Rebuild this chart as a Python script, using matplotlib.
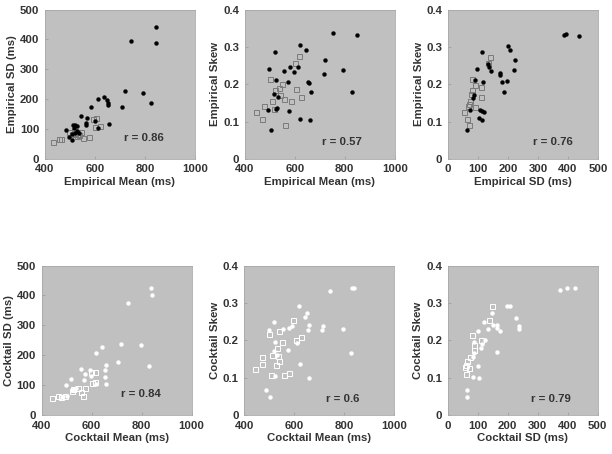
import matplotlib.pyplot as plt
import numpy as np

# ---- data ----
# Empirical: mean vs SD
emp_ms_circ_mean = [844, 745, 844, 720, 791, 825, 710, 612, 638, 647, 651, 654, 585, 656, 543, 570,
                    566, 565, 599, 613, 486, 513, 522, 516, 527, 519, 535, 508, 495, 507, 530]
emp_ms_circ_sd = [440, 395, 387, 227, 222, 186, 174, 200, 207, 196, 187, 181, 173, 116, 143, 136,
                  120, 115, 128, 105, 98, 112, 112, 103, 94, 88, 86, 83, 72, 64, 110]
emp_ms_sq_mean = [434, 457, 463, 495, 507, 520, 530, 537, 546, 551, 576, 592, 605, 600, 621, 530, 515]
emp_ms_sq_sd = [56, 65, 68, 90, 83, 87, 84, 80, 89, 69, 73, 134, 138, 108, 109, 77, 95]

# Empirical: mean vs skew
emp_mk_circ_mean = [752, 849, 621, 644, 522, 722, 794, 497, 555, 580, 611, 595, 716, 523, 574, 652,
                    656, 665, 829, 515, 532, 493, 525, 530, 575, 621, 662, 506]
emp_mk_circ_skew = [0.336, 0.331, 0.304, 0.292, 0.287, 0.266, 0.237, 0.240, 0.235, 0.247, 0.245,
                    0.233, 0.227, 0.211, 0.206, 0.207, 0.204, 0.179, 0.180, 0.175, 0.165, 0.131,
                    0.133, 0.135, 0.127, 0.107, 0.105, 0.078]
emp_mk_sq_mean = [616, 599, 499, 550, 536, 522, 605, 540, 625, 556, 583, 510, 476, 444, 517, 469, 560]
emp_mk_sq_skew = [0.276, 0.258, 0.214, 0.201, 0.190, 0.184, 0.188, 0.171, 0.166, 0.160, 0.156,
                  0.154, 0.143, 0.126, 0.133, 0.107, 0.090]

# Empirical: SD vs skew
emp_sk_circ_sd = [386, 392, 438, 199, 207, 223, 221, 114, 97, 132, 137, 143, 173, 175, 181, 197,
                  186, 90, 117, 86, 84, 74, 106, 112, 120, 104, 115, 65]
emp_sk_circ_skew = [0.332, 0.335, 0.330, 0.303, 0.291, 0.266, 0.237, 0.286, 0.240, 0.253, 0.246,
                    0.235, 0.230, 0.224, 0.206, 0.208, 0.179, 0.210, 0.206, 0.170, 0.164, 0.131,
                    0.130, 0.128, 0.125, 0.109, 0.104, 0.078]
emp_sk_sq_sd = [140, 132, 81, 110, 90, 81, 109, 78, 75, 69, 66, 54, 62, 70, 90]
emp_sk_sq_skew = [0.274, 0.256, 0.214, 0.192, 0.199, 0.185, 0.166, 0.174, 0.156, 0.147, 0.143,
                  0.125, 0.107, 0.090, 0.138]

# Cocktail: mean vs SD
ck_ms_circ_mean = [836, 841, 745, 641, 617, 716, 797, 828, 705, 656, 653, 653, 657, 556, 574, 592,
                   571, 596, 519, 619, 497, 525, 534, 539, 523, 502, 481]
ck_ms_circ_sd = [426, 400, 376, 226, 207, 238, 234, 164, 178, 168, 150, 126, 103, 153, 137, 150,
                 117, 131, 120, 102, 101, 88, 86, 91, 84, 62, 60]
ck_ms_sq_mean = [440, 465, 477, 494, 575, 566, 596, 615, 603, 527, 547, 556, 612, 520]
ck_ms_sq_sd = [57, 64, 61, 64, 89, 64, 144, 144, 108, 86, 91, 78, 111, 80]

# Cocktail: mean vs skew
ck_mk_circ_mean = [744, 833, 839, 619, 653, 644, 658, 656, 519, 556, 578, 593, 499, 523, 612, 574,
                   519, 531, 625, 658, 523, 489, 503, 796, 826, 710, 715]
ck_mk_circ_skew = [0.333, 0.339, 0.339, 0.293, 0.273, 0.262, 0.241, 0.228, 0.249, 0.229, 0.233,
                   0.239, 0.227, 0.195, 0.193, 0.173, 0.170, 0.161, 0.136, 0.100, 0.103, 0.066,
                   0.049, 0.229, 0.167, 0.228, 0.237]
ck_mk_sq_mean = [597, 498, 539, 550, 609, 628, 473, 470, 444, 510, 534, 538, 529, 509, 560, 579, 531]
ck_mk_sq_skew = [0.254, 0.216, 0.224, 0.195, 0.200, 0.209, 0.155, 0.136, 0.124, 0.160, 0.157,
                 0.144, 0.133, 0.108, 0.106, 0.113, 0.178]

# Cocktail: SD vs skew
ck_sk_circ_sd = [373, 398, 426, 207, 227, 237, 237, 199, 148, 120, 135, 152, 163, 166, 175, 100,
                 125, 116, 89, 110, 164, 89, 84, 101, 86, 103, 65, 63]
ck_sk_circ_skew = [0.335, 0.339, 0.339, 0.291, 0.260, 0.237, 0.231, 0.293, 0.273, 0.249, 0.229,
                   0.241, 0.233, 0.241, 0.226, 0.226, 0.200, 0.191, 0.195, 0.178, 0.169, 0.166,
                   0.155, 0.132, 0.102, 0.100, 0.066, 0.049]
ck_sk_sq_sd = [149, 138, 80, 110, 87, 76, 66, 61, 58, 72, 62, 88]
ck_sk_sq_skew = [0.293, 0.255, 0.213, 0.200, 0.187, 0.155, 0.144, 0.133, 0.129, 0.125, 0.111, 0.175]

r_values = ['r = 0.86', 'r = 0.57', 'r = 0.76', 'r = 0.84', 'r = 0.6', 'r = 0.79']

txt = '#333333'
fs = 8.2
plt.rcParams['font.family'] = ['Liberation Sans', 'DejaVu Sans']
plt.rcParams['font.weight'] = 'bold'

fig = plt.figure(figsize=(6.12, 4.54), dpi=100)

panels = [
    # left, bottom, circles x/y, squares x/y, xlim, ylim, xlabel, ylabel, dark?
    (0.0735, 0.650, emp_ms_circ_mean, emp_ms_circ_sd, emp_ms_sq_mean, emp_ms_sq_sd,
     (400, 1000), (0, 500), 'Empirical Mean (ms)', 'Empirical SD (ms)', True),
    (0.400, 0.650, emp_mk_circ_mean, emp_mk_circ_skew, emp_mk_sq_mean, emp_mk_sq_skew,
     (400, 1000), (0, 0.4), 'Empirical Mean (ms)', 'Empirical Skew', True),
    (0.732, 0.650, emp_sk_circ_sd, emp_sk_circ_skew, emp_sk_sq_sd, emp_sk_sq_skew,
     (0, 500), (0, 0.4), 'Empirical SD (ms)', 'Empirical Skew', True),
    (0.068, 0.086, ck_ms_circ_mean, ck_ms_circ_sd, ck_ms_sq_mean, ck_ms_sq_sd,
     (400, 1000), (0, 500), 'Cocktail Mean (ms)', 'Cocktail SD (ms)', False),
    (0.399, 0.086, ck_mk_circ_mean, ck_mk_circ_skew, ck_mk_sq_mean, ck_mk_sq_skew,
     (400, 1000), (0, 0.4), 'Cocktail Mean (ms)', 'Cocktail Skew', False),
    (0.7315, 0.086, ck_sk_circ_sd, ck_sk_circ_skew, ck_sk_sq_sd, ck_sk_sq_skew,
     (0, 500), (0, 0.4), 'Cocktail SD (ms)', 'Cocktail Skew', False),
]
r_pos = [(0.66, 0.14), (0.65, 0.11), (0.70, 0.11), (0.66, 0.14), (0.66, 0.11), (0.69, 0.11)]

for i, p in enumerate(panels):
    left, bottom, cx, cy, sx, sy, xl, yl, xlab, ylab, dark = p
    ax = fig.add_axes([left, bottom, 0.245, 0.329])
    ax.set_facecolor('#c0c0c0')
    if dark:
        ax.plot(sx, sy, 's', ms=3.6, mfc='none', mec='#7a7a7a', mew=0.7)
        ax.plot(cx, cy, 'o', ms=2.8, mfc='black', mec='black', mew=0.3)
    else:
        ax.plot(sx, sy, 's', ms=3.6, mfc='none', mec='white', mew=0.7)
        ax.plot(cx, cy, 'o', ms=2.8, mfc='white', mec='white', mew=0.3)
    ax.set_xlim(xl)
    ax.set_ylim(yl)
    if xl[0] == 400:
        ax.set_xticks([400, 600, 800, 1000])
    else:
        ax.set_xticks([0, 100, 200, 300, 400, 500])
    if yl[1] == 500:
        ax.set_yticks([0, 100, 200, 300, 400, 500])
    else:
        ax.set_yticks([0, 0.1, 0.2, 0.3, 0.4])
        ax.set_yticklabels(['0', '0.1', '0.2', '0.3', '0.4'])
    ax.tick_params(direction='in', length=2, width=0.5, color='#999999',
                   labelsize=fs, labelcolor=txt)
    ax.tick_params(axis='x', pad=4)
    ax.tick_params(axis='y', pad=4)
    for lab in ax.get_xticklabels() + ax.get_yticklabels():
        lab.set_fontweight('bold')
    for s in ax.spines.values():
        s.set_color('#a8a8a8')
        s.set_linewidth(0.6)
    ax.set_xlabel(xlab, fontsize=fs, fontweight='bold', color=txt, labelpad=2)
    ax.set_ylabel(ylab, fontsize=fs, fontweight='bold', color=txt, labelpad=2)
    ax.text(r_pos[i][0], r_pos[i][1], r_values[i], transform=ax.transAxes, ha='center',
            va='center', fontsize=fs, fontweight='bold', color=txt)

fig.savefig('out.png', dpi=100)
